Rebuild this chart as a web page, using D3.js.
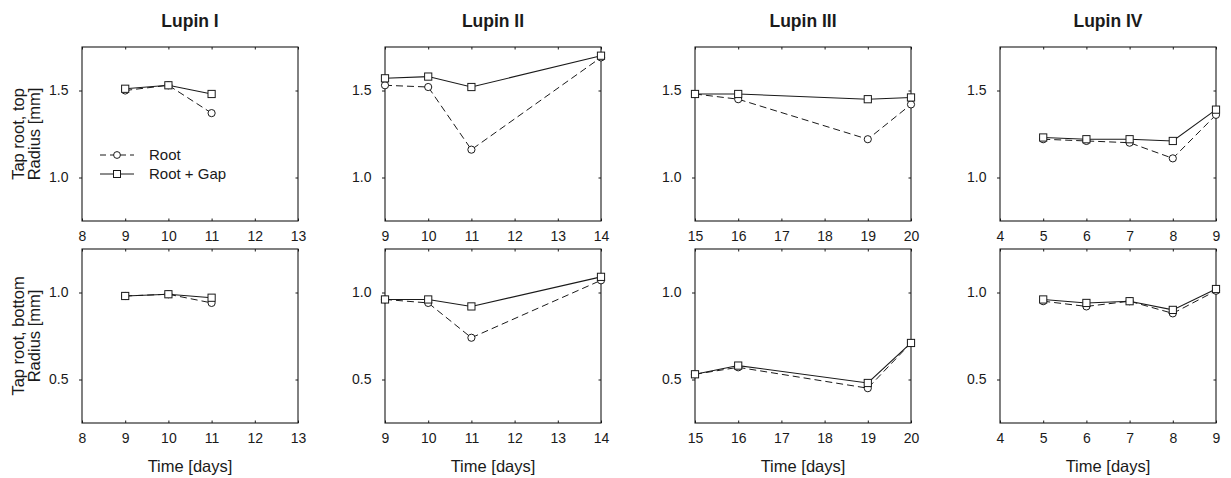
<!DOCTYPE html>
<html>
<head>
<meta charset="utf-8">
<script src="https://cdn.jsdelivr.net/npm/d3@7"></script>
<style>
  body { margin: 0; background: #fff; }
  text { font-family: "Liberation Sans", Arial, sans-serif; fill: #1a1a1a; }
</style>
</head>
<body>
<script>
// Panel titles and x ranges
let lupins = ["Lupin I", "Lupin II", "Lupin III", "Lupin IV"];
let xDomains = [[8, 13], [9, 14], [15, 20], [4, 9]];
let xTicks = [[8, 9, 10, 11, 12, 13], [9, 10, 11, 12, 13, 14], [15, 16, 17, 18, 19, 20], [4, 5, 6, 7, 8, 9]];
let days = [[9, 10, 11], [9, 10, 11, 14], [15, 16, 19, 20], [5, 6, 7, 8, 9]];

// Tap root, top
let topRoot = [[1.50, 1.53, 1.37], [1.53, 1.52, 1.16, 1.69], [1.48, 1.45, 1.22, 1.42], [1.22, 1.21, 1.20, 1.11, 1.36]];
let topRootGap = [[1.51, 1.53, 1.48], [1.57, 1.58, 1.52, 1.70], [1.48, 1.48, 1.45, 1.46], [1.23, 1.22, 1.22, 1.21, 1.39]];

// Tap root, bottom
let bottomRoot = [[0.98, 0.99, 0.94], [0.96, 0.94, 0.74, 1.07], [0.53, 0.57, 0.45, 0.71], [0.95, 0.92, 0.95, 0.88, 1.01]];
let bottomRootGap = [[0.98, 0.99, 0.97], [0.96, 0.96, 0.92, 1.09], [0.53, 0.58, 0.48, 0.71], [0.96, 0.94, 0.95, 0.90, 1.02]];

let rowLabels = [["Tap root, top", "Radius [mm]"], ["Tap root, bottom", "Radius [mm]"]];
let yDomains = [[0.75, 1.75], [0.25, 1.25]];
let yTicks = [[1.0, 1.5], [0.5, 1.0]];
let seriesNames = ["Root", "Root + Gap"];

// Layout
let svgWidth = 1231;
let svgHeight = 478;
let panelLefts = [82, 385, 695, 1000];
let panelWidth = 216;
let rowTops = [47, 249];
let panelHeight = 174;
let ink = "#1a1a1a";

let svg = d3.select("body")
  .append("svg")
  .attr("width", svgWidth)
  .attr("height", svgHeight);

let rows = [[topRoot, topRootGap], [bottomRoot, bottomRootGap]];

rows.forEach(function(row, r) {
  // row label, two rotated lines
  let cy = rowTops[r] + panelHeight / 2;
  rowLabels[r].forEach(function(txt, k) {
    svg.append("text")
      .attr("transform", `translate(${23.5 + k * 16.5}, ${cy}) rotate(-90)`)
      .attr("text-anchor", "middle")
      .style("font-size", "16.5px")
      .text(txt);
  });

  lupins.forEach(function(name, p) {
    let g = svg.append("g")
      .attr("transform", `translate(${panelLefts[p]}, ${rowTops[r]})`);

    let xScale = d3.scaleLinear(xDomains[p], [0, panelWidth]);
    let yScale = d3.scaleLinear(yDomains[r], [panelHeight, 0]);

    // bottom axis: inward ticks, labels
    let xAxis = g.append("g")
      .attr("transform", `translate(0, ${panelHeight})`)
      .call(d3.axisBottom(xScale).tickValues(xTicks[p]).tickFormat(d3.format("d"))
        .tickSizeInner(-2.5).tickSizeOuter(0).tickPadding(10.5));
    // top axis: inward ticks only
    let xTop = g.append("g")
      .call(d3.axisTop(xScale).tickValues(xTicks[p]).tickFormat("")
        .tickSizeInner(-2.5).tickSizeOuter(0));
    // left axis: outward ticks, labels
    let yAxis = g.append("g")
      .call(d3.axisLeft(yScale).tickValues(yTicks[r]).tickFormat(d3.format(".1f"))
        .tickSizeInner(3).tickSizeOuter(0).tickPadding(10.5));
    // right axis: inward ticks
    let yRight = g.append("g")
      .attr("transform", `translate(${panelWidth}, 0)`)
      .call(d3.axisRight(yScale).tickValues(yTicks[r]).tickFormat("")
        .tickSizeInner(-2.5).tickSizeOuter(0));

    [xAxis, xTop, yAxis, yRight].forEach(function(a) {
      a.select(".domain").remove();
      a.selectAll("line").attr("stroke", ink);
      a.selectAll("text")
        .style("font-family", "'Liberation Sans', Arial, sans-serif")
        .style("font-size", "14px")
        .attr("fill", ink);
    });

    g.append("rect")
      .attr("width", panelWidth)
      .attr("height", panelHeight)
      .attr("fill", "none")
      .attr("stroke", ink)
      .attr("stroke-width", 1.1);

    if (r === 0) {
      svg.append("text")
        .attr("x", panelLefts[p] + panelWidth / 2)
        .attr("y", 26.5)
        .attr("text-anchor", "middle")
        .style("font-size", "17.5px")
        .style("font-weight", "bold")
        .text(name);
    } else {
      g.append("text")
        .attr("x", panelWidth / 2)
        .attr("y", panelHeight + 49)
        .attr("text-anchor", "middle")
        .style("font-size", "16.5px")
        .text("Time [days]");
    }

    let line = d3.line()
      .x((d, i) => xScale(days[p][i]))
      .y(d => yScale(d));

    // Root: dashed with circles
    g.append("path")
      .datum(row[0][p])
      .attr("d", line)
      .attr("fill", "none")
      .attr("stroke", ink)
      .attr("stroke-width", 1)
      .attr("stroke-dasharray", "7,4");

    // Root + Gap: solid with squares
    g.append("path")
      .datum(row[1][p])
      .attr("d", line)
      .attr("fill", "none")
      .attr("stroke", ink)
      .attr("stroke-width", 1.1);

    g.selectAll(".pt-root")
      .data(row[0][p])
      .enter()
      .append("circle")
      .attr("cx", (d, i) => xScale(days[p][i]))
      .attr("cy", d => yScale(d))
      .attr("r", 3.6)
      .attr("fill", "#fff")
      .attr("stroke", ink);

    g.selectAll(".pt-gap")
      .data(row[1][p])
      .enter()
      .append("rect")
      .attr("x", (d, i) => xScale(days[p][i]) - 3.6)
      .attr("y", d => yScale(d) - 3.6)
      .attr("width", 7.2)
      .attr("height", 7.2)
      .attr("fill", "#fff")
      .attr("stroke", ink);
  });
});

// Legend inside first panel
let legend = svg.append("g").attr("transform", "translate(100, 155)");
seriesNames.forEach(function(name, i) {
  let ly = i * 19;
  legend.append("line")
    .attr("x1", 0).attr("x2", 34)
    .attr("y1", ly).attr("y2", ly)
    .attr("stroke", ink)
    .attr("stroke-dasharray", i === 0 ? "6,4" : null);
  if (i === 0) {
    legend.append("circle").attr("cx", 17).attr("cy", ly).attr("r", 3.4)
      .attr("fill", "#fff").attr("stroke", ink);
  } else {
    legend.append("rect").attr("x", 13.5).attr("y", ly - 3.5).attr("width", 7).attr("height", 7)
      .attr("fill", "#fff").attr("stroke", ink);
  }
  legend.append("text")
    .attr("x", 49)
    .attr("y", ly)
    .attr("dy", "0.35em")
    .style("font-size", "15px")
    .text(name);
});
</script>
</body>
</html>
